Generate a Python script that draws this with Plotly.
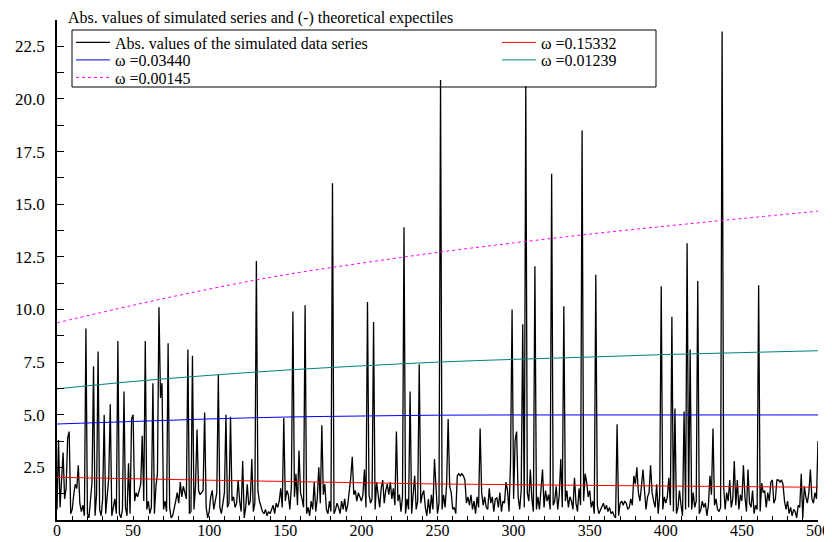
import plotly.graph_objects as go

# ---------------- data ----------------
abs_values = [
    0.5, 3.8, 0.6, 2.0, 3.2, 1.0, 1.5, 3.9, 4.2, 0.3,
    0.5, 1.2, 1.7, 1.5, 2.6, 0.8, 0.4, 0.7, 0.2, 9.1,
    0.3, 0.1, 0.8, 1.8, 7.3, 0.2, 1.2, 8.0, 0.5, 0.2,
    1.0, 5.0, 0.3, 1.2, 2.0, 5.5, 0.2, 0.6, 1.0, 0.3,
    8.5, 0.3, 0.1, 0.5, 6.1, 0.6, 0.2, 2.7, 0.3, 4.8,
    5.0, 0.9, 1.3, 1.1, 1.5, 1.7, 4.0, 0.9, 8.5, 0.5,
    0.9, 0.3, 0.6, 6.5, 0.3, 1.6, 2.2, 10.1, 5.8, 6.5,
    0.5, 0.9, 0.4, 8.4, 0.6, 0.1, 0.2, 0.5, 0.9, 1.3,
    0.8, 1.8, 1.1, 1.6, 1.3, 1.0, 8.1, 0.3, 0.4, 7.8,
    0.5, 1.6, 4.3, 1.4, 1.2, 1.3, 1.4, 5.1, 0.6, 0.1,
    0.4, 1.1, 1.4, 0.5, 0.9, 1.3, 6.9, 0.6, 0.3, 0.9,
    1.3, 5.0, 0.6, 0.8, 4.9, 0.9, 1.1, 0.6, 0.8, 1.9,
    0.9, 0.4, 2.8, 0.1, 0.6, 1.7, 0.7, 0.9, 2.9, 0.4,
    0.8, 12.3, 1.4, 0.9, 0.6, 0.4, 0.3, 0.5, 0.2, 0.4,
    0.3, 0.5, 0.7, 0.3, 0.8, 0.6, 0.9, 1.5, 0.6, 4.85,
    0.9, 1.4, 1.2, 0.5, 1.6, 9.9, 1.1, 2.2, 0.7, 3.3,
    1.3, 1.0, 0.6, 10.2, 0.3, 0.6, 0.2, 0.9, 0.5, 1.8,
    0.4, 1.0, 2.5, 0.8, 4.5, 1.2, 1.7, 0.5, 0.3, 0.9,
    0.4, 16.0, 0.3, 0.5, 0.8, 0.6, 0.3, 0.9, 0.5, 1.0,
    0.4, 0.7, 1.3, 2.0, 3.0, 1.2, 1.4, 0.9, 1.3, 1.1,
    0.9, 1.2, 2.4, 0.6, 10.35, 1.2, 0.8, 1.0, 9.4, 0.5,
    1.8, 1.2, 0.6, 1.5, 1.9, 0.8, 1.4, 1.7, 1.2, 1.8,
    1.0, 1.5, 0.7, 4.2, 0.9, 1.2, 0.4, 1.1, 13.9, 0.3,
    1.0, 0.5, 6.1, 0.3, 1.2, 2.1, 0.5, 0.9, 7.4, 0.8,
    1.2, 1.4, 0.6, 0.2, 1.0, 0.3, 1.2, 0.5, 2.9, 1.5,
    0.3, 0.8, 20.9, 0.5, 1.2, 0.6, 1.7, 4.8, 1.6, 1.3,
    0.5, 0.6, 0.3, 2.1, 2.2, 2.1, 2.2, 2.1, 1.9, 0.8,
    1.1, 0.7, 1.2, 0.5, 0.9, 0.3, 1.1, 0.6, 4.35, 1.3,
    0.7, 1.1, 0.6, 0.5, 1.5, 0.8, 1.1, 0.4, 1.0, 1.05,
    0.6, 1.3, 0.4, 0.9, 0.8, 1.8, 1.4, 0.4, 2.8, 10.0,
    1.0, 3.8, 4.2, 1.1, 0.5, 1.4, 9.3, 0.6, 20.6, 1.3,
    0.9, 2.4, 1.0, 0.4, 12.05, 0.5, 1.1, 0.5, 1.3, 2.4,
    0.6, 1.4, 0.9, 1.2, 0.5, 16.45, 0.7, 0.9, 1.6, 0.5,
    1.2, 2.9, 0.6, 10.15, 0.9, 1.4, 0.6, 1.1, 0.9, 0.5,
    2.0, 0.8, 0.4, 1.5, 0.7, 18.5, 0.9, 2.2, 1.8, 1.1,
    1.4, 0.6, 0.9, 0.3, 11.65, 0.7, 0.3, 0.5, 0.6, 0.8,
    0.5, 0.7, 0.4, 0.6, 0.3, 0.4, 0.2, 0.1, 4.55, 0.2,
    0.8, 0.9, 0.7, 0.9, 0.8, 0.5, 0.6, 1.0, 0.7, 2.1,
    1.7, 2.5, 1.3, 0.9, 1.6, 2.4, 1.4, 0.5, 1.1, 1.3,
    2.6, 1.3, 0.9, 0.6, 1.7, 0.3, 1.2, 11.1, 0.5, 1.1,
    0.8, 1.1, 2.0, 0.7, 9.65, 0.4, 5.3, 0.3, 0.6, 1.4,
    0.7, 0.2, 5.15, 0.5, 13.15, 0.6, 8.1, 0.5, 1.3, 0.6,
    0.9, 11.35, 0.3, 0.5, 0.9, 0.6, 0.8, 0.2, 0.7, 2.1,
    1.2, 4.35, 0.7, 1.0, 0.5, 0.4, 0.6, 23.2, 1.6, 0.5,
    1.3, 0.9, 1.9, 0.6, 1.0, 2.8, 0.7, 1.9, 0.5, 1.2,
    0.9, 2.6, 1.1, 0.4, 2.4, 0.8, 0.6, 1.4, 0.3, 0.7,
    0.5, 11.15, 0.4, 1.75, 1.3, 1.4, 0.6, 1.3, 0.9, 1.8,
    1.9, 0.8, 1.0, 1.9, 1.9, 1.8, 1.9, 1.7, 0.9, 0.5,
    0.9, 0.3, 0.6, 0.2, 0.5, 0.4, 0.1, 0.7, 0.6, 2.2,
    0.1, 1.6, 1.1, 0.8, 1.3, 2.4, 1.0, 0.8, 1.3, 1.0,
    3.75,
]
t_index = list(range(len(abs_values)))

curve_x = [0, 50, 100, 150, 200, 250, 300, 350, 400, 450, 500]
exp_015332 = [2.03, 1.96, 1.89, 1.83, 1.77, 1.71, 1.68, 1.645, 1.615, 1.585, 1.555]
exp_003440 = [4.56, 4.68, 4.80, 4.89, 4.94, 4.98, 4.99, 4.99, 4.99, 4.99, 4.99]
exp_001239 = [6.23, 6.58, 6.87, 7.12, 7.32, 7.50, 7.63, 7.74, 7.86, 7.95, 8.04]
exp_000145 = [9.37, 10.2, 10.97, 11.65, 12.2, 12.71, 13.16, 13.58, 13.96, 14.32, 14.67]

series_names = [
    "Abs. values of the simulated data series",
    "\u03c9 =0.15332",
    "\u03c9 =0.03440",
    "\u03c9 =0.01239",
    "\u03c9 =0.00145",
]

y_tick_vals = [i * 1.25 for i in range(20)]
y_tick_text = ["%.1f" % (i * 1.25) if (i % 2 == 0 and i > 0) else "" for i in range(20)]
x_tick_vals = list(range(0, 501, 10))
x_tick_text = [str(v) if v % 50 == 0 else "" for v in x_tick_vals]

title_text = "Abs. values of simulated series and (-) theoretical expectiles"

# ---------------- figure ----------------
# The page body has an 8px margin, so the figure is drawn 8px right/down
# of the window corner; sizes below compensate for that offset.
OFF = 8
FONT = "Liberation Serif, Times New Roman, serif"
W, H = 832 - OFF, 542 - OFF
ML, MR, MT, MB = 57 - OFF, 14, 20 - OFF, 22
PW = W - ML - MR
PH = H - MT - MB


def px_to_paper_x(px):
    # px: window pixel
    return (px - OFF - ML) / PW


def px_to_paper_y(py):
    return (H - MB - (py - OFF)) / PH


fig = go.Figure()

fig.add_trace(go.Scatter(x=t_index, y=abs_values, mode="lines",
                         line=dict(color="black", width=1.3),
                         name=series_names[0], legend="legend"))
fig.add_trace(go.Scatter(x=curve_x, y=exp_015332, mode="lines", line_shape="spline",
                         line=dict(color="#ff0000", width=1),
                         name=series_names[1], legend="legend2"))
fig.add_trace(go.Scatter(x=curve_x, y=exp_003440, mode="lines", line_shape="spline",
                         line=dict(color="#0000ff", width=1),
                         name=series_names[2], legend="legend3"))
fig.add_trace(go.Scatter(x=curve_x, y=exp_001239, mode="lines", line_shape="spline",
                         line=dict(color="#008080", width=1),
                         name=series_names[3], legend="legend4"))
fig.add_trace(go.Scatter(x=curve_x, y=exp_000145, mode="lines", line_shape="spline",
                         line=dict(color="#ff00ff", width=1, dash="dot"),
                         name=series_names[4], legend="legend5"))

col1_px, col2_px = 71, 497
row_px = [42.5, 60, 77.5]
legend_common = dict(bgcolor="rgba(0,0,0,0)", borderwidth=0,
                     font=dict(family=FONT, size=16, color="black"),
                     xanchor="left", yanchor="middle", itemwidth=34,
                     tracegroupgap=0)
legend_pos = {
    "legend": (col1_px, row_px[0]),
    "legend2": (col2_px, row_px[0]),
    "legend3": (col1_px, row_px[1]),
    "legend4": (col2_px, row_px[1]),
    "legend5": (col1_px, row_px[2]),
}
legend_layout = {}
for key, (lx, ly) in legend_pos.items():
    legend_layout[key] = dict(legend_common, x=px_to_paper_x(lx), y=px_to_paper_y(ly))

fig.update_layout(
    width=W, height=H,
    margin=dict(l=ML, r=MR, t=MT, b=MB, autoexpand=False),
    paper_bgcolor="white", plot_bgcolor="white",
    font=dict(family=FONT, size=17, color="black"),
    showlegend=True,
    title=dict(text=title_text, x=(68 - OFF) / W, xanchor="left", xref="container",
               y=1 - (17.5 - OFF) / H, yanchor="middle", yref="container",
               font=dict(family=FONT, size=16, color="black")),
    xaxis=dict(range=[0, 500], tickmode="array", tickvals=x_tick_vals, ticktext=x_tick_text,
               ticks="inside", ticklen=4, tickcolor="black", tickwidth=1,
               showline=True, linecolor="black", linewidth=1.5,
               showgrid=False, zeroline=False, ticklabelstandoff=-5,
               tickfont=dict(family=FONT, size=16, color="black")),
    yaxis=dict(range=[0, 23.75], tickmode="array", tickvals=y_tick_vals, ticktext=y_tick_text,
               ticks="inside", ticklen=7, tickcolor="black", tickwidth=1,
               showline=True, linecolor="black", linewidth=1.5,
               showgrid=False, zeroline=False, ticklabelstandoff=7,
               tickfont=dict(family=FONT, size=17, color="black")),
    shapes=[dict(type="rect", xref="paper", yref="paper",
                 x0=px_to_paper_x(72), x1=px_to_paper_x(656),
                 y0=px_to_paper_y(87), y1=px_to_paper_y(30),
                 line=dict(color="black", width=1), fillcolor="rgba(0,0,0,0)",
                 layer="above")],
    **legend_layout,
)

fig.write_html("out.html")
